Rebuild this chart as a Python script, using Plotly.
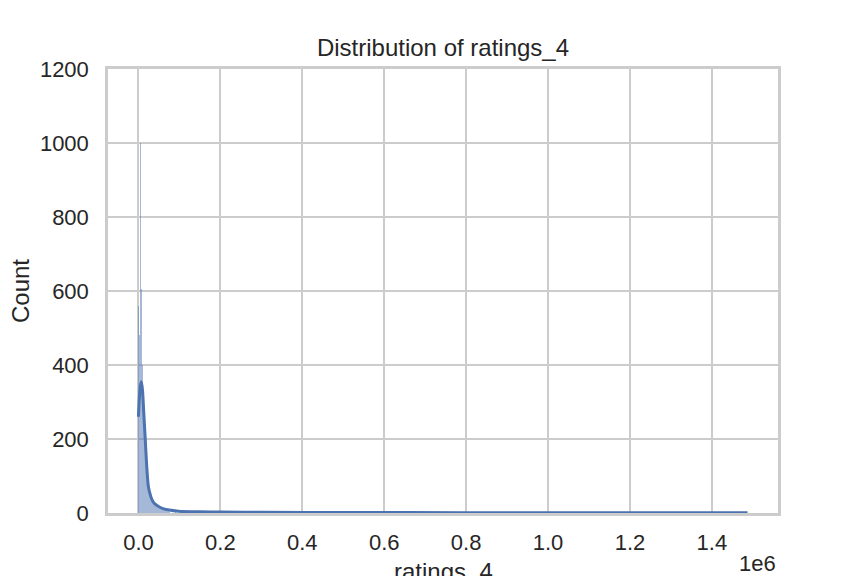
import numpy as np
import plotly.graph_objects as go

# Histogram of ratings_4: narrow bins near zero, sparse long tail.
BIN_WIDTH = 1500
head_counts = [560, 480, 540, 1000, 605, 470, 400, 345, 295, 250,
               210, 178, 150, 127, 108, 92, 78, 67, 58, 51,
               45, 40, 36, 33, 30, 28, 26, 24, 22, 20,
               18, 16, 15, 14, 13, 12, 11, 10, 10, 9,
               9, 8, 8, 7, 7, 6, 6, 6, 5, 5]
tail_starts = [75000, 90000, 105000, 120000, 150000, 180000, 220000, 260000,
               330000, 410000, 520000, 640000, 780000, 950000, 1150000, 1485000]
tail_counts = [4, 4, 3, 3, 3, 2, 2, 2, 2, 1, 1, 1, 1, 1, 1, 1]

# KDE curve, scaled to counts
kde_x = [0, 2500, 5000, 7300, 10000, 13000, 16300, 20000, 24400, 30000,
         35000, 40700, 50000, 60000, 75000, 97600, 150000, 200000, 300000,
         500000, 800000, 1100000, 1487000]
kde_y = [260, 315, 345, 355, 330, 270, 205, 130, 70, 45,
         32, 24, 17, 12, 8, 5, 3.2, 2.5, 1.8, 1.3, 1.0, 0.8, 0.6]

x_ticks = [0, 200000, 400000, 600000, 800000, 1000000, 1200000, 1400000]
x_labels = ["0.0", "0.2", "0.4", "0.6", "0.8", "1.0", "1.2", "1.4"]
y_ticks = [0, 200, 400, 600, 800, 1000, 1200]

BLUE = "#4c72b0"
GRID = "#cccccc"
TEXT = "#262626"
FONT = "Liberation Sans, Arial, sans-serif"

starts = list(np.arange(len(head_counts)) * BIN_WIDTH) + tail_starts
counts = head_counts + tail_counts
centers = [s + BIN_WIDTH / 2 for s in starts]

fig = go.Figure()
fig.add_trace(go.Bar(x=centers, y=counts, width=BIN_WIDTH,
                     marker=dict(color="rgba(76,114,176,0.5)", line=dict(width=0)),
                     showlegend=False))
fig.add_trace(go.Scatter(x=kde_x, y=kde_y, mode="lines",
                         line=dict(color=BLUE, width=3, shape="spline", smoothing=0.8),
                         showlegend=False))

# page body adds ~8px offset, so margins are shifted to compensate
fig.update_layout(
    width=864, height=576,
    margin=dict(l=100, r=94, t=61, b=71),
    paper_bgcolor="white", plot_bgcolor="white",
    font=dict(family=FONT, size=22, color=TEXT),
    bargap=0,
    title=dict(text="Distribution of ratings_4", x=0.5, xanchor="center",
               xref="paper", y=1 - 40 / 576, yref="container", yanchor="middle",
               font=dict(size=24, color=TEXT)),
)
fig.update_xaxes(range=[-74350, 1561350], tickvals=x_ticks, ticktext=x_labels,
                 showgrid=True, gridcolor=GRID, gridwidth=1.6, zeroline=False,
                 showline=True, linecolor=GRID, linewidth=2.5, mirror=True,
                 ticks="outside", ticklen=8, tickcolor="rgba(0,0,0,0)")
fig.update_yaxes(range=[0, 1200], tickvals=y_ticks,
                 showgrid=True, gridcolor=GRID, gridwidth=1.6, zeroline=False,
                 showline=True, linecolor=GRID, linewidth=2.5, mirror=True,
                 ticks="outside", ticklen=12, tickcolor="rgba(0,0,0,0)")

fig.add_annotation(text="Count", textangle=-90, xref="paper", yref="paper",
                   x=(20 - 108) / 670, y=0.5, xanchor="center", yanchor="middle",
                   showarrow=False, font=dict(size=24, color=TEXT))
fig.add_annotation(text="ratings_4", xref="paper", yref="paper",
                   x=0.5, y=(513 - 571) / 444, xanchor="center", yanchor="middle",
                   showarrow=False, font=dict(size=24, color=TEXT))
fig.add_annotation(text="1e6", xref="paper", yref="paper",
                   x=1, y=(513 - 563) / 444, xanchor="right", yanchor="middle",
                   showarrow=False, font=dict(size=22, color=TEXT))

fig.write_html("out.html")
